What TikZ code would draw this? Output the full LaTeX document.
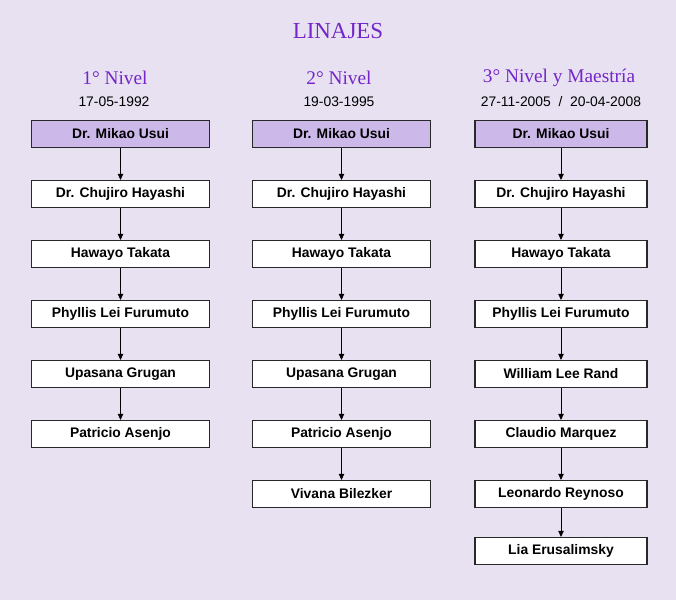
\documentclass[tikz,border=0pt]{standalone}
\usepackage{fontspec}
\setmainfont{Liberation Serif}
\setsansfont{Liberation Sans}
\usetikzlibrary{arrows.meta}
\definecolor{bg}{RGB}{231,225,241}
\definecolor{hdrfill}{RGB}{204,185,234}
\definecolor{ttl}{RGB}{116,38,200}
\definecolor{edge}{RGB}{40,40,40}
\tikzset{
  person/.style={draw=edge, line width=0.8pt, fill=white, minimum height=20.25pt, inner sep=0pt,
    font=\sffamily\bfseries\fontsize{10.4}{12}\selectfont, text=black},
  wideperson/.style={person, minimum width=134pt},
  narrowperson/.style={person, minimum width=129pt},
  rootbox/.style={fill=hdrfill},
  arr/.style={draw=black, line width=0.7pt, -{Triangle[length=4.5pt,width=4pt]}},
  title/.style={font=\fontsize{17.2}{20}\selectfont, text=ttl},
  level/.style={font=\fontsize{14.5}{17}\selectfont, text=ttl},
  datetext/.style={font=\sffamily\fontsize{10.4}{12}\selectfont, text=black}
}
\begin{document}
\begin{tikzpicture}[x=0.75pt,y=-0.75pt]
\fill[bg] (0,0) rectangle (676,600);
\useasboundingbox (0,0) rectangle (676,600);

\node[title] (ttl) at (338,31) {LINAJES};

\node[level] (h1) at (115,78) {1° Nivel};
\node[level] (h2) at (339,78) {2° Nivel};
\node[level] (h3) at (559,78) {3° Nivel y Maestría};

\node[datetext] (d1) at (114,102) {17-05-1992};
\node[datetext] (d2) at (339,102) {19-03-1995};
\node[datetext] (d3) at (561,102) {27-11-2005~~/~~20-04-2008};

% column 1
\node[wideperson,rootbox] (a1) at (120.5,134) {Dr. Mikao Usui};
\node[wideperson] (a2) at (120.5,194) {Dr. Chujiro Hayashi};
\node[wideperson] (a3) at (120.5,254) {Hawayo Takata};
\node[wideperson] (a4) at (120.5,314) {Phyllis Lei Furumuto};
\node[wideperson] (a5) at (120.5,374) {Upasana Grugan};
\node[wideperson] (a6) at (120.5,434) {Patricio Asenjo};

% column 2
\node[wideperson,rootbox] (b1) at (341.5,134) {Dr. Mikao Usui};
\node[wideperson] (b2) at (341.5,194) {Dr. Chujiro Hayashi};
\node[wideperson] (b3) at (341.5,254) {Hawayo Takata};
\node[wideperson] (b4) at (341.5,314) {Phyllis Lei Furumuto};
\node[wideperson] (b5) at (341.5,374) {Upasana Grugan};
\node[wideperson] (b6) at (341.5,434) {Patricio Asenjo};
\node[wideperson] (b7) at (341.5,494) {Vivana Bilezker};

% column 3
\node[narrowperson,rootbox] (c1) at (561,134) {Dr. Mikao Usui};
\node[narrowperson] (c2) at (561,194) {Dr. Chujiro Hayashi};
\node[narrowperson] (c3) at (561,254) {Hawayo Takata};
\node[narrowperson] (c4) at (561,314) {Phyllis Lei Furumuto};
\node[narrowperson] (c5) at (561,374) {William Lee Rand};
\node[narrowperson] (c6) at (561,434) {Claudio Marquez};
\node[narrowperson] (c7) at (561,494) {Leonardo Reynoso};
\node[narrowperson] (c8) at (561,551) {Lia Erusalimsky};

\foreach \p/\q in {a1/a2,a2/a3,a3/a4,a4/a5,a5/a6,
                   b1/b2,b2/b3,b3/b4,b4/b5,b5/b6,b6/b7,
                   c1/c2,c2/c3,c3/c4,c4/c5,c5/c6,c6/c7,c7/c8}
  \draw[arr] (\p) -- (\q);
\end{tikzpicture}
\end{document}
